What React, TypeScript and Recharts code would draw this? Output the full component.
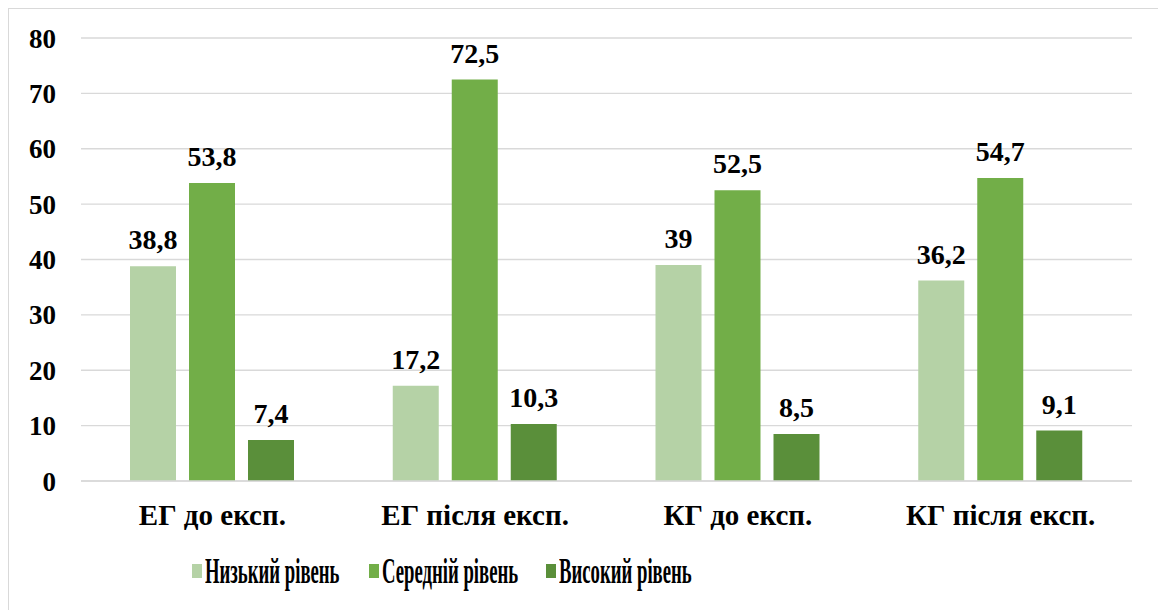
import React from 'react'
import { BarChart, Bar, XAxis, YAxis, CartesianGrid, LabelList } from 'recharts'

const groups = ['ЕГ до експ.', 'ЕГ після експ.', 'КГ до експ.', 'КГ після експ.']
const lowLevel = [38.8, 17.2, 39, 36.2]
const midLevel = [53.8, 72.5, 52.5, 54.7]
const highLevel = [7.4, 10.3, 8.5, 9.1]
const seriesNames = ['Низький рівень', 'Середній рівень', 'Високий рівень']
const seriesColors = ['#b5d2a6', '#72ae48', '#5a8f3a']
const yTicks = [0, 10, 20, 30, 40, 50, 60, 70, 80]

const data = groups.map((g, i) => ({
  group: g,
  low: lowLevel[i],
  mid: midLevel[i],
  high: highLevel[i],
}))
const keys = ['low', 'mid', 'high']

const font = 'Liberation Serif, DejaVu Serif, serif'
const fmt = (v: number) => String(v).replace('.', ',')

export default function App() {
  return (
    <div
      style={{
        position: 'relative',
        width: 1151,
        height: 610,
        border: '1px solid #d9d9d9',
        fontFamily: font,
      }}
    >
      <BarChart
        width={1151}
        height={600}
        data={data}
        margin={{ top: 29, right: 28, left: 0, bottom: 68 }}
        barSize={46}
        barGap={13}
        style={{ fontFamily: font }}
      >
        <CartesianGrid vertical={false} stroke="#d9d9d9" strokeWidth={1.4} />
        <XAxis
          dataKey="group"
          height={60}
          axisLine={{ stroke: '#d9d9d9', strokeWidth: 1.4 }}
          tickLine={false}
          tickSize={0}
          tickMargin={23}
          tick={{ fontSize: 29, fontWeight: 700, fill: '#000', fontFamily: font }}
        />
        <YAxis
          width={72}
          domain={[0, 80]}
          ticks={yTicks}
          axisLine={false}
          tickLine={false}
          tickSize={0}
          tickMargin={25}
          tick={{ fontSize: 27, fontWeight: 700, fill: '#000', fontFamily: font }}
        />
        {keys.map((k, i) => (
          <Bar key={k} dataKey={k} name={seriesNames[i]} fill={seriesColors[i]} isAnimationActive={false}>
            <LabelList
              dataKey={k}
              position="top"
              offset={17}
              formatter={(v: number) => fmt(v)}
              style={{ fontSize: 28, fontWeight: 700, fill: '#000', fontFamily: font }}
            />
          </Bar>
        ))}
      </BarChart>
      {/* legend: Excel squeezes these labels horizontally */}
      {seriesNames.map((name, i) => (
        <div
          key={name}
          style={{
            position: 'absolute',
            left: 183 + i * 177,
            top: 544,
            display: 'flex',
            alignItems: 'center',
            height: 36,
          }}
        >
          <span style={{ width: 10, height: 14, background: seriesColors[i], display: 'inline-block' }} />
          <span
            style={{
              display: 'inline-block',
              marginLeft: 3,
              fontSize: 36,
              fontWeight: 700,
              whiteSpace: 'nowrap',
              lineHeight: '36px',
              width: 134,
            }}
          >
            <span style={{ display: 'inline-block', transform: 'scaleX(0.52)', transformOrigin: 'left center' }}>
              {name}
            </span>
          </span>
        </div>
      ))}
    </div>
  )
}
